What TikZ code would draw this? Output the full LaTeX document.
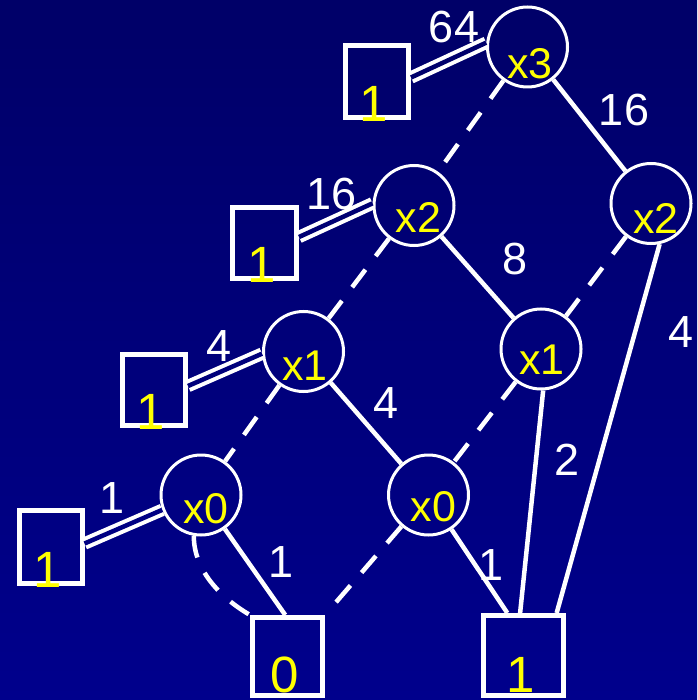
\documentclass[tikz,border=0pt]{standalone}
\usepackage{fontspec}
\setmainfont{Liberation Sans}
\usetikzlibrary{calc}
\definecolor{bgtop}{RGB}{0,0,104}
\definecolor{bgbot}{RGB}{0,0,140}
\definecolor{bgA}{RGB}{0,0,107}
\definecolor{bgB}{RGB}{0,0,115}
\definecolor{bgC}{RGB}{0,0,123}
\definecolor{bgD}{RGB}{0,0,131}
\definecolor{vyellow}{RGB}{255,255,0}
\begin{document}
\begin{tikzpicture}[x=1pt,y=-1pt,
  bdd/.style={circle, draw=white, line width=3pt, minimum size=80pt, inner sep=0pt},
  vtext/.style={text=vyellow, font=\fontsize{43}{43}\selectfont, inner sep=0pt},
  term/.style={draw=white, line width=5pt, inner sep=0pt},
  ttext/.style={text=vyellow, font=\fontsize{51}{51}\selectfont, inner sep=0pt, anchor=base},
  wlabel/.style={text=white, font=\fontsize{45}{45}\selectfont, inner sep=0pt},
  hi/.style={draw=white, line width=4.5pt},
  lo/.style={draw=white, line width=4.5pt, dash pattern=on 22pt off 17pt},
  dbl/.style={draw=white, line width=4pt, double distance=4.5pt}]
\useasboundingbox (0,0) rectangle (697,700);
\shade[top color=bgtop, bottom color=bgbot] (0,0) rectangle (697,700);

% decision nodes
\node[bdd] (X3)  at (527.5,47) {};
\node[bdd] (X2L) at (414,205.5) {};
\node[bdd] (X2R) at (651,203.5) {};
\node[bdd] (X1L) at (303.5,351.5) {};
\node[bdd] (X1R) at (541,349) {};
\node[bdd] (X0L) at (201,495) {};
\node[bdd] (X0R) at (428.5,495) {};

% terminal squares
\node[term, minimum width=63pt, minimum height=72pt] (S3) at (377,81.5) {};
\node[term, minimum width=64pt, minimum height=71pt] (S2) at (264.5,243) {};
\node[term, minimum width=63pt, minimum height=71pt] (S1) at (154,390) {};
\node[term, minimum width=63pt, minimum height=73pt] (S0) at (50.5,547) {};
\node[term, minimum width=70pt, minimum height=78pt] (B0) at (287.5,656.5) {};
\node[term, minimum width=80pt, minimum height=80pt] (B1) at (523.5,655.5) {};

% edges
\draw[lo] (X3) -- (X2L);
\draw[hi] (X3) -- (X2R);
\draw[lo] (X2L) -- (X1L);
\draw[hi] (X2L) -- (X1R);
\draw[lo] (X2R) -- (X1R);
\draw[hi] (X2R.-78) -- ($(B1.north west)!0.89!(B1.north east)$);
\draw[lo] (X1L) -- (X0L);
\draw[hi] (X1L) -- (X0R);
\draw[lo] (X1R) -- (X0R);
\draw[hi] (X1R.-87) -- ($(B1.north west)!0.46!(B1.north east)$);
\draw[hi] (X0R) -- ($(B1.north west)!0.31!(B1.north east)$);
\draw[lo] (X0R) -- (B0.north east);
\draw[hi] (X0L) -- ($(B0.north west)!0.47!(B0.north east)$);
\draw[lo] (X0L.-100) .. controls +(0,38) and +(-24,-14) .. (B0.north west);

% double (weighted) edges to the 1 terminals
\draw[dbl, double=bgA] ($(S3.east)+(0,-4)$) -- (X3.174);
\draw[dbl, double=bgB] ($(S2.east)+(0,-6)$) -- (X2L.177);
\draw[dbl, double=bgC] ($(S1.east)+(0,-4)$) -- (X1L.183);
\draw[dbl, double=bgD] ($(S0.east)+(0,-3.5)$) -- (X0L.201);

% node texts
\node[vtext] (tX3)  at (530,64) {x3};
\node[vtext] (tX2L) at (418.5,217.5) {x2};
\node[vtext] (tX2R) at (656,218) {x2};
\node[vtext] (tX1L) at (305,365.5) {x1};
\node[vtext] (tX1R) at (542,360) {x1};
\node[vtext] (tX0L) at (206,509) {x0};
\node[vtext] (tX0R) at (433.5,506.5) {x0};

\node[ttext] (tS3) at ($(S3.south)+(-3,1.5)$) {1};
\node[ttext] (tS2) at ($(S2.south)+(-3,1.5)$) {1};
\node[ttext] (tS1) at ($(S1.south)+(-3,1.5)$) {1};
\node[ttext] (tS0) at ($(S0.south)+(-3,1.5)$) {1};
\node[ttext] (tB0) at ($(B0.south)+(-3,-6)$) {0};
\node[ttext] (tB1) at ($(B1.south)+(-3,-6)$) {1};

% weights
\node[wlabel] (l64)  at (454,27) {64};
\node[wlabel] (l16r) at (624,110) {16};
\node[wlabel] (l16l) at (331.5,194) {16};
\node[wlabel] (l8)   at (515,259) {8};
\node[wlabel] (l4a)  at (219,346) {4};
\node[wlabel] (l4b)  at (681,332) {4};
\node[wlabel] (l4c)  at (386.5,403) {4};
\node[wlabel] (l2)   at (567.5,459.5) {2};
\node[wlabel] (l1a)  at (112,498.5) {1};
\node[wlabel] (l1b)  at (281.5,562) {1};
\node[wlabel] (l1c)  at (491,565) {1};
\end{tikzpicture}
\end{document}
